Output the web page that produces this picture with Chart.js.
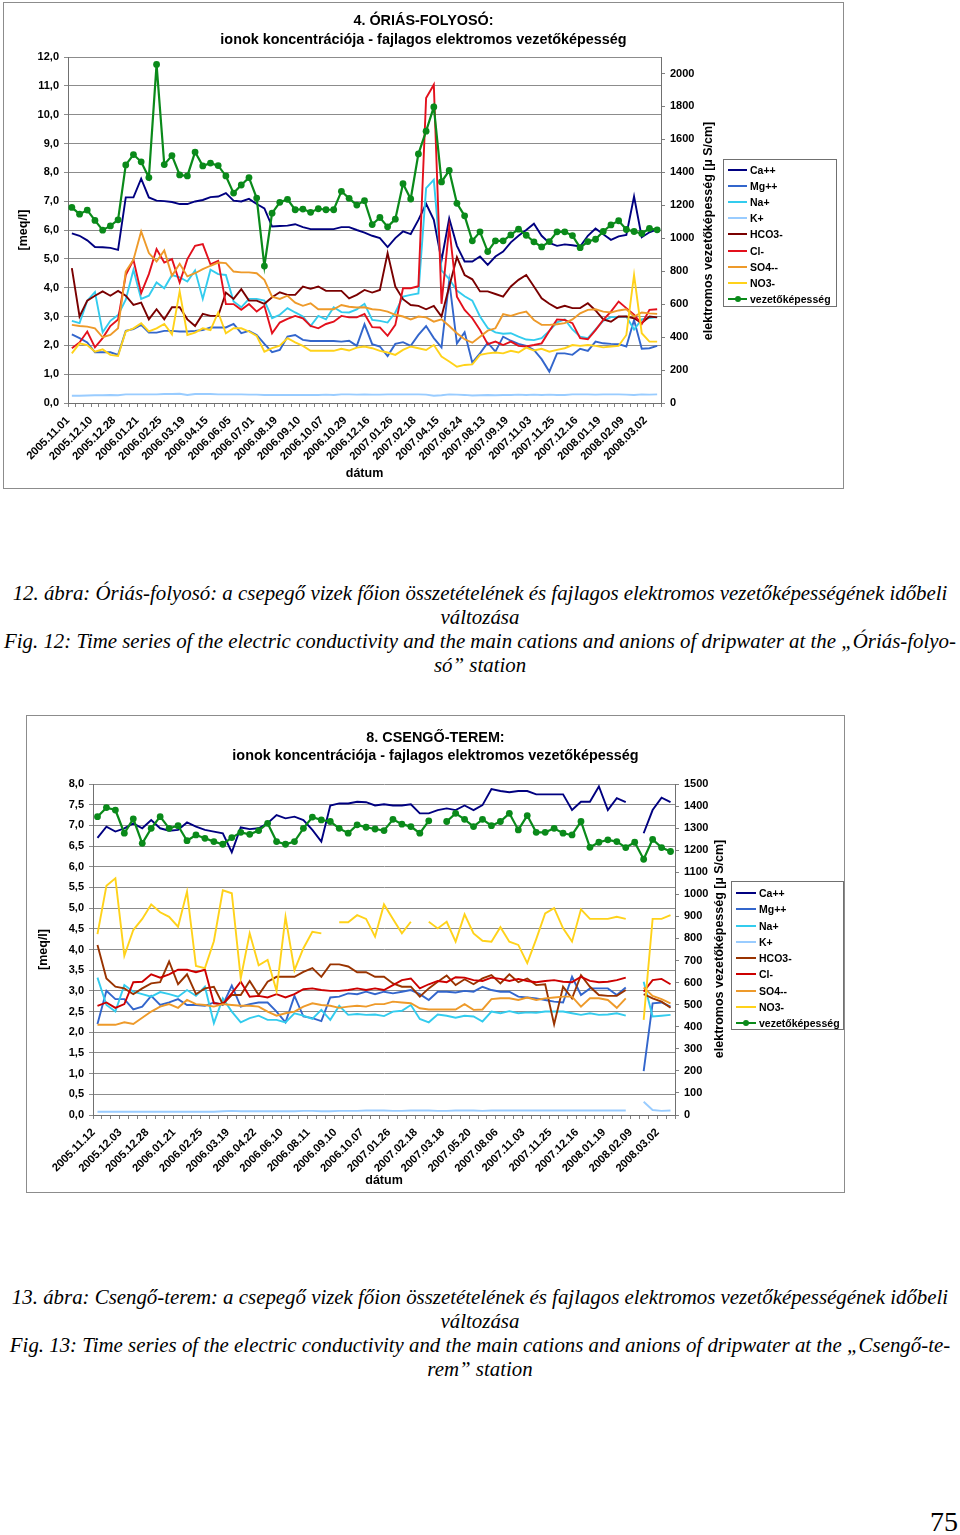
<!DOCTYPE html>
<html>
<head>
<meta charset="utf-8">
<script src="https://cdn.jsdelivr.net/npm/chart.js@4.4.1/dist/chart.umd.min.js"></script>
<style>
  html, body { margin:0; padding:0; background:#fff; }
  body { width:960px; height:1535px; position:relative; overflow:hidden; font-family:"Liberation Sans", Arial, sans-serif; }
  .box { position:absolute; border:1px solid #8c8c8c; background:#fff; }
  .box canvas { position:absolute; left:0; top:0; }
  .rtitle { position:absolute; white-space:nowrap; font-weight:bold; font-size:12.5px; color:#000;
            transform:translate(-50%,-50%) rotate(-90deg); line-height:15px; }
  .legend { position:absolute; border:1px solid #707070; background:#fff; }
  .legend .smp { position:absolute; height:2px; }
  .legend .dot { position:absolute; width:6px; height:6px; border-radius:50%; }
  .legend .txt { position:absolute; font-weight:bold; font-size:10.5px; line-height:14px; white-space:nowrap; color:#000; }
  .cap { position:absolute; left:0; width:960px; text-align:center; font-family:"Liberation Serif","Times New Roman",serif;
         font-style:italic; font-size:20px; line-height:24px; white-space:nowrap; color:#000; }
  .pnum { position:absolute; right:2px; top:1506px; font-family:"Liberation Serif","Times New Roman",serif; font-size:28px; line-height:32px; color:#000; }
</style>
</head>
<body>

<div class="box" id="box1" style="left:3px;top:2px;width:839px;height:485px;">
  <canvas id="c1" width="839" height="485"></canvas>
</div>
<div class="rtitle" style="left:708px;top:231px;">elektromos vezetőképesség [µ S/cm]</div>
<div class="legend" id="leg1" style="left:723px;top:159px;width:112px;height:146px;"></div>

<div class="cap" style="top:581px">12. ábra: Óriás-folyosó: a csepegő vizek főion összetételének és fajlagos elektromos vezetőképességének időbeli</div>
<div class="cap" style="top:605px">változása</div>
<div class="cap" style="top:629px">Fig. 12: Time series of the electric conductivity and the main cations and anions of dripwater at the „Óriás-folyo-</div>
<div class="cap" style="top:653px">só” station</div>

<div class="box" id="box2" style="left:26px;top:715px;width:817px;height:476px;">
  <canvas id="c2" width="817" height="476"></canvas>
</div>
<div class="rtitle" style="left:719px;top:949px;">elektromos vezetőképesség [µ S/cm]</div>
<div class="legend" id="leg2" style="left:731px;top:881px;width:111px;height:147px;"></div>

<div class="cap" style="top:1285px">13. ábra: Csengő-terem: a csepegő vizek főion összetételének és fajlagos elektromos vezetőképességének időbeli</div>
<div class="cap" style="top:1309px">változása</div>
<div class="cap" style="top:1333px">Fig. 13: Time series of the electric conductivity and the main cations and anions of dripwater at the „Csengő-te-</div>
<div class="cap" style="top:1357px">rem” station</div>

<div class="pnum">75</div>

<script>
// ---------------- DATA ----------------
const seriesNames = ['Ca++','Mg++','Na+','K+','HCO3-','Cl-','SO4--','NO3-','vezetőképesség'];

// Chart 1: 4. ÓRIÁS-FOLYOSÓ (77 samples, every 3rd labelled)
const tickLabels1 = ['2005.11.01','2005.12.10','2005.12.28','2006.01.21','2006.02.25','2006.03.19','2006.04.15','2006.06.05','2006.07.01','2006.08.19','2006.09.10','2006.10.07','2006.10.29','2006.12.16','2007.01.26','2007.02.18','2007.04.15','2007.06.24','2007.08.13','2007.09.19','2007.11.03','2007.11.25','2007.12.16','2008.01.19','2008.02.09','2008.03.02'];
const ca1 = [5.88,5.80,5.64,5.41,5.40,5.38,5.31,7.13,7.13,7.78,
 7.13,7.02,7.00,6.97,6.90,6.90,6.99,7.04,7.14,7.16,
 7.28,7.02,6.99,7.08,6.90,6.75,6.12,6.14,6.15,6.20,
 6.10,6.03,6.03,6.03,6.03,6.10,6.10,6.00,5.91,5.80,
 5.72,5.41,5.72,5.95,5.86,6.35,6.91,6.35,4.95,6.40,
 5.45,4.91,4.91,5.08,4.79,5.08,5.25,5.57,5.80,6.00,
 6.22,5.80,5.55,5.45,5.50,5.47,5.43,5.80,6.05,5.85,
 5.66,5.78,5.83,7.16,5.75,5.92,6.02];
const mg1 = [2.38,2.25,2.10,1.76,1.76,1.76,1.67,2.50,2.56,2.71,
 2.44,2.44,2.50,2.50,2.48,2.48,2.50,2.53,2.62,2.62,
 2.62,2.74,2.42,2.50,2.36,2.05,1.76,1.84,2.30,2.36,
 2.19,2.15,2.15,2.15,2.15,2.13,2.16,1.98,2.73,2.04,
 1.96,1.63,2.05,2.11,1.98,2.36,2.67,2.25,1.93,4.24,
 2.07,2.45,1.40,1.72,2.09,1.78,2.30,2.16,2.05,1.98,
 1.84,1.52,1.09,1.72,1.72,1.67,1.88,1.81,2.13,2.07,
 2.05,2.04,1.96,2.88,1.88,1.90,1.98];
const na1 = [2.85,2.77,3.55,3.85,2.45,2.85,3.05,3.58,4.62,3.61,
 3.72,4.18,3.98,4.44,4.36,4.21,4.60,3.61,4.62,4.47,
 4.44,3.52,3.32,3.61,3.61,3.55,2.94,3.06,3.29,3.14,
 3.00,2.67,3.02,2.90,3.32,3.15,3.14,3.25,3.44,2.88,
 2.85,2.79,3.14,3.69,3.75,3.80,7.45,7.74,4.60,4.30,
 3.90,3.70,3.55,3.00,2.60,2.45,2.40,2.42,2.30,2.20,
 2.18,2.25,2.50,2.80,2.90,2.55,2.30,2.25,2.55,2.85,
 2.98,2.98,3.00,2.55,2.90,2.95,2.98];
const k1 = [0.25,0.25,0.26,0.27,0.27,0.28,0.27,0.30,0.30,0.30,
 0.30,0.30,0.31,0.31,0.32,0.28,0.31,0.31,0.31,0.30,
 0.30,0.30,0.30,0.29,0.29,0.28,0.28,0.28,0.28,0.28,
 0.28,0.28,0.28,0.29,0.28,0.30,0.30,0.29,0.30,0.29,
 0.29,0.30,0.30,0.30,0.30,0.30,0.29,0.25,0.27,0.30,
 0.29,0.28,0.26,0.27,0.28,0.27,0.28,0.28,0.29,0.28,
 0.29,0.28,0.29,0.28,0.28,0.30,0.30,0.30,0.29,0.30,
 0.30,0.30,0.29,0.28,0.30,0.29,0.30];
const hco1 = [4.68,3.00,3.55,3.72,3.87,3.72,3.89,3.72,3.40,3.48,
 2.90,3.25,2.90,3.32,3.32,2.90,2.67,3.09,3.02,3.02,
 3.83,3.61,3.95,3.55,3.55,3.44,3.67,3.84,3.75,3.75,
 4.04,3.96,4.04,3.89,3.89,3.89,3.63,3.75,3.92,3.83,
 3.92,5.20,4.04,3.60,3.40,3.37,3.25,3.37,3.00,4.04,
 5.06,4.44,4.29,3.87,3.87,3.78,3.69,4.04,4.27,4.44,
 4.04,3.63,3.44,3.29,3.37,3.29,3.29,3.46,3.21,2.90,
 2.82,3.00,3.00,2.94,2.77,3.00,2.97];
const cl1 = [1.90,2.10,2.48,1.93,2.25,2.67,2.90,4.44,4.97,3.81,
 4.47,5.34,4.87,4.99,4.18,4.99,5.45,5.51,4.81,4.93,
 3.43,3.43,3.23,3.43,3.17,3.37,2.42,2.79,2.92,3.02,
 2.94,2.67,2.59,2.74,2.82,3.02,2.97,2.97,3.09,2.63,
 2.62,2.33,2.71,3.98,3.98,4.05,10.58,11.04,3.44,6.10,
 3.69,3.23,2.94,2.53,2.04,2.13,2.01,2.13,1.98,1.96,
 2.01,2.07,2.50,2.90,2.88,2.77,2.25,2.21,2.53,2.88,
 3.17,3.52,3.29,3.06,2.74,3.23,3.25];
const so41 = [2.71,2.67,2.65,2.59,2.28,2.36,2.59,4.56,4.97,5.95,
 5.20,4.91,5.29,4.41,4.83,4.39,4.50,4.64,4.76,4.87,
 4.85,4.56,4.53,4.53,4.50,4.27,3.69,3.61,3.72,3.48,
 3.37,3.46,3.25,3.25,3.25,3.40,3.34,3.31,3.32,3.25,
 3.23,3.17,3.06,3.00,2.90,3.00,2.97,2.82,2.90,2.67,
 2.42,2.21,2.09,2.30,2.51,2.59,3.08,3.02,3.11,3.17,
 2.88,2.71,2.71,2.73,2.77,2.90,3.11,3.23,3.25,3.17,
 3.14,3.21,3.25,3.00,3.14,3.11,3.09];
const no31 = [1.72,2.07,2.01,1.78,1.86,1.67,1.63,2.48,2.59,2.77,
 2.48,2.59,2.74,2.38,3.87,2.36,2.44,2.59,2.53,3.14,
 2.42,2.59,2.59,2.48,2.33,1.78,1.90,1.99,2.25,2.10,
 1.98,1.81,1.81,1.81,1.81,1.88,1.82,1.92,1.96,1.90,
 1.81,1.75,1.67,1.84,1.96,1.90,1.84,2.01,1.61,1.44,
 1.26,1.32,1.34,1.67,1.72,1.75,1.72,1.81,1.75,1.92,
 1.82,1.88,1.78,1.84,1.90,2.01,1.98,2.01,1.98,1.93,
 1.96,1.98,2.36,4.44,2.42,2.13,2.13];
const cond1 = [1187,1146,1171,1108,1049,1075,1112,1445,1508,1464,
 1368,2055,1447,1502,1384,1378,1523,1439,1456,1441,
 1378,1274,1323,1368,1244,831,1152,1218,1236,1173,
 1177,1157,1179,1173,1173,1285,1242,1201,1228,1083,
 1126,1069,1116,1331,1238,1512,1650,1797,1342,1411,
 1212,1136,984,1039,919,984,984,1020,1055,1018,
 978,947,980,1039,1039,1016,943,980,994,1041,
 1081,1106,1053,1041,1029,1059,1051];

// Chart 2: 8. CSENGŐ-TEREM (65 samples, every 3rd labelled)
const tickLabels2 = ['2005.11.12','2005.12.03','2005.12.28','2006.01.21','2006.02.25','2006.03.19','2006.04.22','2006.06.10','2006.08.11','2006.09.10','2006.10.07','2007.01.26','2007.02.18','2007.03.18','2007.05.20','2007.08.06','2007.11.03','2007.11.25','2007.12.16','2008.01.19','2008.02.09','2008.03.02'];
const ca2 = [6.70,6.97,6.85,6.93,7.05,6.93,7.13,6.93,6.87,6.89,
 7.07,6.97,6.89,6.85,6.81,6.35,6.95,6.91,6.93,7.05,
 7.25,7.17,7.21,7.13,6.89,6.61,7.48,7.53,7.53,7.57,
 7.56,7.48,7.51,7.48,7.48,7.51,7.29,7.29,7.37,7.41,
 7.37,7.48,7.37,7.49,7.88,7.83,7.80,7.83,7.83,7.75,
 7.75,7.75,7.75,7.37,7.57,7.57,7.94,7.37,7.66,7.56,
 null,6.81,7.37,7.67,7.56];
const mg2 = [2.20,3.00,2.80,2.80,2.55,2.62,2.88,2.66,2.72,2.80,
 2.66,2.66,2.64,2.72,2.66,3.13,2.62,2.68,2.72,2.72,
 2.50,2.24,2.88,2.38,2.34,2.27,2.84,2.86,2.94,2.92,
 2.98,2.92,2.98,2.94,2.98,3.02,2.92,2.78,2.98,2.98,
 2.96,3.00,2.98,3.10,3.02,2.98,2.98,2.86,2.84,2.82,
 2.78,2.74,2.72,3.34,2.90,3.06,3.06,3.06,2.90,3.08,
 null,1.06,2.70,2.72,2.62];
const na2 = [3.32,2.66,2.50,3.14,2.98,2.92,2.86,2.97,2.92,2.86,
 3.02,2.88,3.10,2.22,2.82,2.50,2.24,2.34,2.40,2.30,
 2.30,2.24,2.46,2.40,2.32,2.54,2.30,2.64,2.42,2.44,
 2.42,2.43,2.39,2.50,2.52,2.66,2.32,2.24,2.43,2.40,
 2.35,2.40,2.38,2.26,2.50,2.46,2.51,2.46,2.48,2.47,
 2.50,2.50,2.50,2.46,2.42,2.46,2.42,2.43,2.46,2.40,
 null,3.22,2.38,2.40,2.42];
const k2 = [0.08,0.08,0.08,0.08,0.08,0.08,0.08,0.08,0.08,0.08,
 0.08,0.08,0.08,0.08,0.09,0.10,0.09,0.09,0.09,0.09,
 0.09,0.09,0.09,0.10,0.10,0.09,0.09,0.10,0.10,0.10,
 0.11,0.11,0.11,0.10,0.10,0.11,0.11,0.11,0.10,0.10,
 0.11,0.11,0.11,0.10,0.11,0.11,0.11,0.11,0.11,0.11,
 0.11,0.11,0.11,0.11,0.11,0.11,0.11,0.11,0.11,0.11,
 null,0.32,0.12,0.10,0.11];
const hco2 = [4.11,3.30,3.10,3.06,2.92,3.06,3.18,3.21,3.71,3.16,
 3.40,2.92,3.06,3.10,2.68,2.90,2.90,3.24,2.90,3.22,
 3.34,3.34,3.34,3.46,3.55,3.34,3.64,3.64,3.59,3.45,
 3.45,3.34,3.34,3.18,3.10,3.10,2.86,3.06,3.22,3.37,
 3.14,3.28,3.16,3.30,3.38,3.18,3.40,3.21,3.30,3.14,
 3.16,2.19,3.10,2.82,3.38,3.10,2.90,2.88,2.88,3.02,
 null,2.92,2.82,2.74,2.59];
const cl2 = [2.64,2.72,2.59,2.68,3.21,3.22,3.40,3.32,3.40,3.51,
 3.51,3.45,3.51,2.70,2.68,2.94,3.22,2.86,2.88,2.84,
 2.92,2.84,2.92,3.04,3.06,3.02,3.00,3.00,3.02,3.06,
 3.02,3.06,3.02,3.14,3.26,3.30,3.06,3.16,3.24,3.21,
 3.33,3.32,3.26,3.24,3.32,3.29,3.24,3.29,3.24,3.21,
 3.24,3.26,3.22,3.21,3.34,3.24,3.21,3.22,3.26,3.32,
 null,2.98,3.26,3.29,3.16];
const so42 = [2.18,2.18,2.18,2.24,2.20,2.35,2.50,2.62,2.68,2.59,
 2.78,2.68,2.66,2.62,2.68,2.66,2.64,2.64,2.62,2.50,
 2.40,2.46,2.50,2.62,2.70,2.66,2.64,2.59,2.62,2.64,
 2.62,2.68,2.68,2.74,2.72,2.70,2.58,2.55,2.55,2.55,
 2.55,2.68,2.54,2.55,2.80,2.82,2.82,2.78,2.84,2.78,
 2.82,2.84,2.86,2.86,2.62,2.82,2.82,2.78,2.59,2.82,
 null,3.08,2.88,2.80,2.70];
const no32 = [4.37,5.54,5.72,3.85,4.47,4.74,5.09,4.90,4.79,4.55,
 5.40,3.60,3.55,4.20,5.43,5.36,3.30,4.39,3.62,3.75,
 3.00,4.79,3.50,4.03,4.43,4.39,null,4.66,4.66,4.83,
 4.74,4.31,5.09,4.74,4.39,4.67,null,4.67,4.51,4.67,
 4.19,4.85,4.39,4.21,4.19,4.54,4.19,4.11,3.67,4.25,
 4.87,5.00,4.51,4.19,4.97,4.74,4.74,4.74,4.79,4.74,
 null,2.30,4.74,4.74,4.83];
const cond2 = [1352,1393,1382,1277,1342,1231,1299,1352,1299,1311,
 1243,1269,1254,1239,1227,1257,1281,1272,1289,1322,
 1239,1227,1239,1299,1350,1337,1330,1299,1277,1315,
 1304,1296,1289,1340,1318,1307,1277,1333,null,1330,
 1367,1340,1307,1340,1311,1330,1367,1292,1357,1281,
 1281,1299,1277,1269,1330,1213,1236,1247,1239,1212,
 1236,1159,1249,1212,1194];

// ---------------- STYLE ----------------
const FONT = '"Liberation Sans", Arial, Helvetica, sans-serif';
const colors1 = ['#000080','#3366CC','#33CCEE','#99CCFF','#7A0000','#E3101C','#EE9A2A','#FFD21A','#0A8A1A'];
const colors2 = ['#000080','#3366CC','#33CCEE','#99CCFF','#993300','#CC0000','#EE9A2A','#FFD21A','#0A8A1A'];

Chart.defaults.font.family = FONT;
Chart.defaults.color = '#000';

function categories(ticks, n) {
  const c = [];
  for (let i = 0; i < n; i++) c.push(i % 3 === 0 && ticks[i / 3] ? ticks[i / 3] : '');
  return c;
}

function datasets(series, colors) {
  return series.map((d, k) => {
    const cond = k === 8;
    return {
      label: seriesNames[k], data: d,
      borderColor: colors[k], backgroundColor: colors[k],
      borderWidth: cond ? 2.2 : 1.9,
      pointRadius: cond ? 3.4 : 0, pointHoverRadius: cond ? 3.4 : 0,
      pointBorderWidth: 0, pointStyle: 'circle',
      tension: 0, spanGaps: false,
      yAxisID: cond ? 'y1' : 'y',
      order: 9 - k
    };
  });
}

function options(p) {
  const bold = (s) => ({ family: FONT, size: s, weight: 'bold' });
  return {
    responsive: false, animation: false, devicePixelRatio: 1,
    layout: { padding: 0 },
    plugins: {
      legend: { display: false }, tooltip: { enabled: false },
      title: { display: true, text: p.title, color: '#000',
               font: { family: FONT, size: 14.4, weight: 'bold', lineHeight: p.titleLH },
               padding: { top: p.titleTop, bottom: p.titleBottom } }
    },
    scales: {
      x: {
        type: 'category', offset: true,
        afterFit: (s) => { s.height = p.xHeight; },
        grid: { display: true, drawOnChartArea: false, offset: true, tickLength: 4, color: '#808080', lineWidth: 1 },
        border: { display: true, color: '#707070', width: 1 },
        ticks: { autoSkip: false, maxRotation: 45, minRotation: 45, color: '#000', font: bold(11.2), padding: 7, labelOffset: -4 },
        title: { display: true, text: 'dátum', color: '#000', font: bold(12.5), padding: { top: 0, bottom: p.xTitlePad } }
      },
      y: {
        position: 'left', min: 0, max: p.yMax,
        afterFit: (s) => { s.width = p.yWidth; },
        ticks: { stepSize: p.yStep, color: '#000', font: bold(11), padding: 5,
                 callback: (v) => Number(v).toFixed(1).replace('.', ',') },
        grid: { color: '#8c8c8c', lineWidth: 1, tickLength: 4 },
        border: { color: '#707070', width: 1 },
        title: { display: true, text: '[meq/l]', color: '#000', font: bold(12.5), padding: { top: p.yTitlePad, bottom: 0 } }
      },
      y1: {
        position: 'right', min: 0, max: p.y1Max,
        afterFit: (s) => { s.width = p.y1Width; },
        afterBuildTicks: (s) => { s.ticks = s.ticks.filter(t => t.value % p.y1Step === 0 && t.value <= p.y1Last); },
        ticks: { stepSize: p.y1Step, color: '#000', font: bold(11), padding: 5, callback: (v) => String(v) },
        grid: { drawOnChartArea: false, tickLength: 4, color: '#808080', lineWidth: 1 },
        border: { color: '#707070', width: 1 }
      }
    }
  };
}

new Chart(document.getElementById('c1'), {
  type: 'line',
  data: { labels: categories(tickLabels1, cond1.length),
          datasets: datasets([ca1, mg1, na1, k1, hco1, cl1, so41, no31, cond1], colors1) },
  options: options({
    title: ['4. ÓRIÁS-FOLYOSÓ:', 'ionok koncentrációja - fajlagos elektromos vezetőképesség'],
    titleLH: 19 / 14.4, titleTop: 8.5, titleBottom: 7.5,
    xHeight: 85, xTitlePad: 6.5, yWidth: 64, yTitlePad: 12.5, y1Width: 182,
    yMax: 12, yStep: 1, y1Max: 2100, y1Step: 200, y1Last: 2000
  })
});

new Chart(document.getElementById('c2'), {
  type: 'line',
  data: { labels: categories(tickLabels2, cond2.length),
          datasets: datasets([ca2, mg2, na2, k2, hco2, cl2, so42, no32, cond2], colors2) },
  options: options({
    title: ['8. CSENGŐ-TEREM:', 'ionok koncentrációja - fajlagos elektromos vezetőképesség'],
    titleLH: 18 / 14.4, titleTop: 13, titleBottom: 19,
    xHeight: 77, xTitlePad: 3.5, yWidth: 66, yTitlePad: 9.5, y1Width: 169,
    yMax: 8, yStep: 0.5, y1Max: 1500, y1Step: 100, y1Last: 1500
  })
});

// ---------------- HTML legends ----------------
function legend(id, colors, rowTop, rowStep, smpW) {
  const el = document.getElementById(id);
  seriesNames.forEach((name, k) => {
    const cy = rowTop + rowStep * k;
    const s = document.createElement('div');
    s.className = 'smp';
    s.style.cssText = `left:4px;top:${cy - 1}px;width:${smpW}px;background:${colors[k]}`;
    el.appendChild(s);
    if (k === 8) {
      const d = document.createElement('div');
      d.className = 'dot';
      d.style.cssText = `left:${4 + smpW / 2 - 3}px;top:${cy - 3}px;background:${colors[k]}`;
      el.appendChild(d);
    }
    const t = document.createElement('div');
    t.className = 'txt';
    t.style.cssText = `left:${smpW + 7}px;top:${cy - 7}px`;
    t.textContent = name;
    el.appendChild(t);
  });
}
legend('leg1', colors1, 10, 16.1, 19);
legend('leg2', colors2, 11, 16.25, 20);

// fit caption font size so that the long first line spans ~935px
(function () {
  const caps = document.querySelectorAll('.cap');
  const ctx = document.createElement('canvas').getContext('2d');
  ctx.font = 'italic 20px "Liberation Serif"';
  const w = ctx.measureText(caps[0].textContent).width;
  const fs = Math.max(16, Math.min(24, 20 * 935 / w));
  caps.forEach(c => { c.style.fontSize = fs.toFixed(2) + 'px'; });
})();
</script>
</body>
</html>
